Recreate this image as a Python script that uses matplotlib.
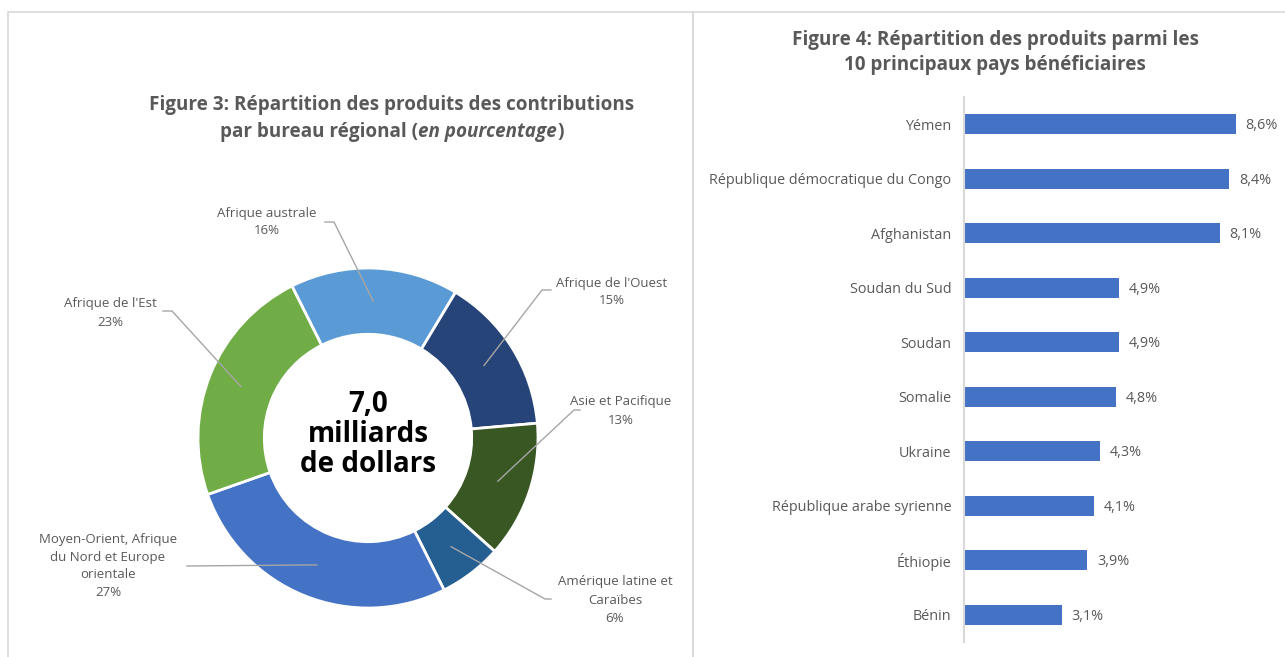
import numpy as np
import matplotlib.pyplot as plt
from matplotlib.patches import Rectangle

# Data
regions = ["Afrique australe", "Afrique de l'Ouest", "Asie et Pacifique",
           "Amérique latine et\nCaraïbes", "Moyen-Orient, Afrique\ndu Nord et Europe\norientale",
           "Afrique de l'Est"]
region_share = [16, 15, 13, 6, 27, 23]
region_colors = ["#5B9BD5", "#264478", "#385723", "#255E91", "#4472C4", "#70AD47"]

countries = ["Yémen", "République démocratique du Congo", "Afghanistan", "Soudan du Sud",
             "Soudan", "Somalie", "Ukraine", "République arabe syrienne", "Éthiopie", "Bénin"]
country_share = [8.6, 8.4, 8.1, 4.9, 4.9, 4.8, 4.3, 4.1, 3.9, 3.1]

GREY = "#595959"
W, H = 1285, 657
plt.rcParams['font.family'] = ['Open Sans', 'DejaVu Sans']

fig = plt.figure(figsize=(W / 100, H / 100), dpi=100)

# panel borders
for x0, x1 in [(8, 693), (693, 1290)]:
    fig.patches.append(Rectangle((x0 / W, -0.01), (x1 - x0) / W, (H - 12) / H + 0.01,
                                 transform=fig.transFigure, fill=False,
                                 edgecolor="#D9D9D9", linewidth=1.2))


def px(x, y):
    return x / W, 1 - y / H


# ---------- Figure 3: donut ----------
cx, cy, R = 368, 438, 170
ax = fig.add_axes([(cx - R) / W, (H - cy - R) / H, 2 * R / W, 2 * R / H])
wedges, _ = ax.pie(region_share, colors=region_colors, startangle=116.6, counterclock=False,
                   radius=1, wedgeprops=dict(width=0.39, edgecolor="white", linewidth=2))
ax.set_xlim(-1, 1)
ax.set_ylim(-1, 1)
ax.axis("off")

ax.text(0, 0.02, "7,0\nmilliards\nde dollars", ha="center", va="center", fontsize=20,
        fontweight="bold", color="black", linespacing=1.05)


def d(x, y):
    return (x - cx) / R, (cy - y) / R


label_pos = [d(267, 222), d(612, 292), d(621, 411), d(615, 600), d(108, 566), d(110, 313)]
elbows = [(d(334, 222), d(325, 222)), (d(542, 290), d(551, 290)), (d(574, 410), d(580, 410)),
          (d(545, 599), d(551, 599)), (d(187, 566), d(187, 566)), (d(172, 311), d(163, 311))]

for w, name, val, pos, (e1, e2) in zip(wedges, regions, region_share, label_pos, elbows):
    a = np.deg2rad((w.theta1 + w.theta2) / 2)
    r = 0.805
    xs = [r * np.cos(a), e1[0], e2[0]]
    ys = [r * np.sin(a), e1[1], e2[1]]
    ax.plot(xs, ys, color="#A6A6A6", linewidth=1, clip_on=False)
    ax.text(pos[0], pos[1], f"{name}\n{val}%", ha="center", va="center", fontsize=9.5,
            color=GREY, linespacing=1.5, clip_on=False)

# title with italic part
TS = 13.6
fig.text(*px(392, 105), "Figure 3: Répartition des produits des contributions", ha="center",
         va="center", fontsize=TS, fontweight="bold", color=GREY)
renderer = fig.canvas.get_renderer()
parts = [("par bureau régional (", "normal"), ("en pourcentage", "italic"), (")", "normal")]
texts = [fig.text(0, 0, s, fontsize=TS, fontweight="bold", style=st, color=GREY, va="center")
         for s, st in parts]
widths = [t.get_window_extent(renderer).width for t in texts]
x = 392 - sum(widths) / 2
for t, wd in zip(texts, widths):
    t.set_position(px(x, 132))
    x += wd

# ---------- Figure 4: bars ----------
bx0, bx1, by0, by1 = 964, 1270, 97, 642
ax2 = fig.add_axes([bx0 / W, 1 - by1 / H, (bx1 - bx0) / W, (by1 - by0) / H])
ypos = np.arange(len(countries))
ax2.barh(ypos, country_share, height=0.37, color="#4472C4")
ax2.set_ylim(len(countries) - 0.5, -0.5)
ax2.set_xlim(0, (bx1 - bx0) / 31.6)
ax2.set_yticks(ypos)
ax2.set_yticklabels(countries, fontsize=10.4, color=GREY)
ax2.tick_params(axis="y", length=0, pad=9)
ax2.set_xticks([])
for s in ["top", "right", "bottom"]:
    ax2.spines[s].set_visible(False)
ax2.spines["left"].set_color("#D9D9D9")
ax2.spines["left"].set_linewidth(1.5)
for yy, v in zip(ypos, country_share):
    ax2.annotate(f"{v:.1f}%".replace(".", ","), (v, yy), xytext=(7, -1), textcoords="offset points",
                 va="center", ha="left", fontsize=10.4, color=GREY)

fig.text(*px(995, 40), "Figure 4: Répartition des produits parmi les", ha="center", va="center",
         fontsize=TS, fontweight="bold", color=GREY)
fig.text(*px(995, 65), "10 principaux pays bénéficiaires", ha="center", va="center",
         fontsize=TS, fontweight="bold", color=GREY)

fig.savefig("out.png", dpi=100, facecolor="white")
